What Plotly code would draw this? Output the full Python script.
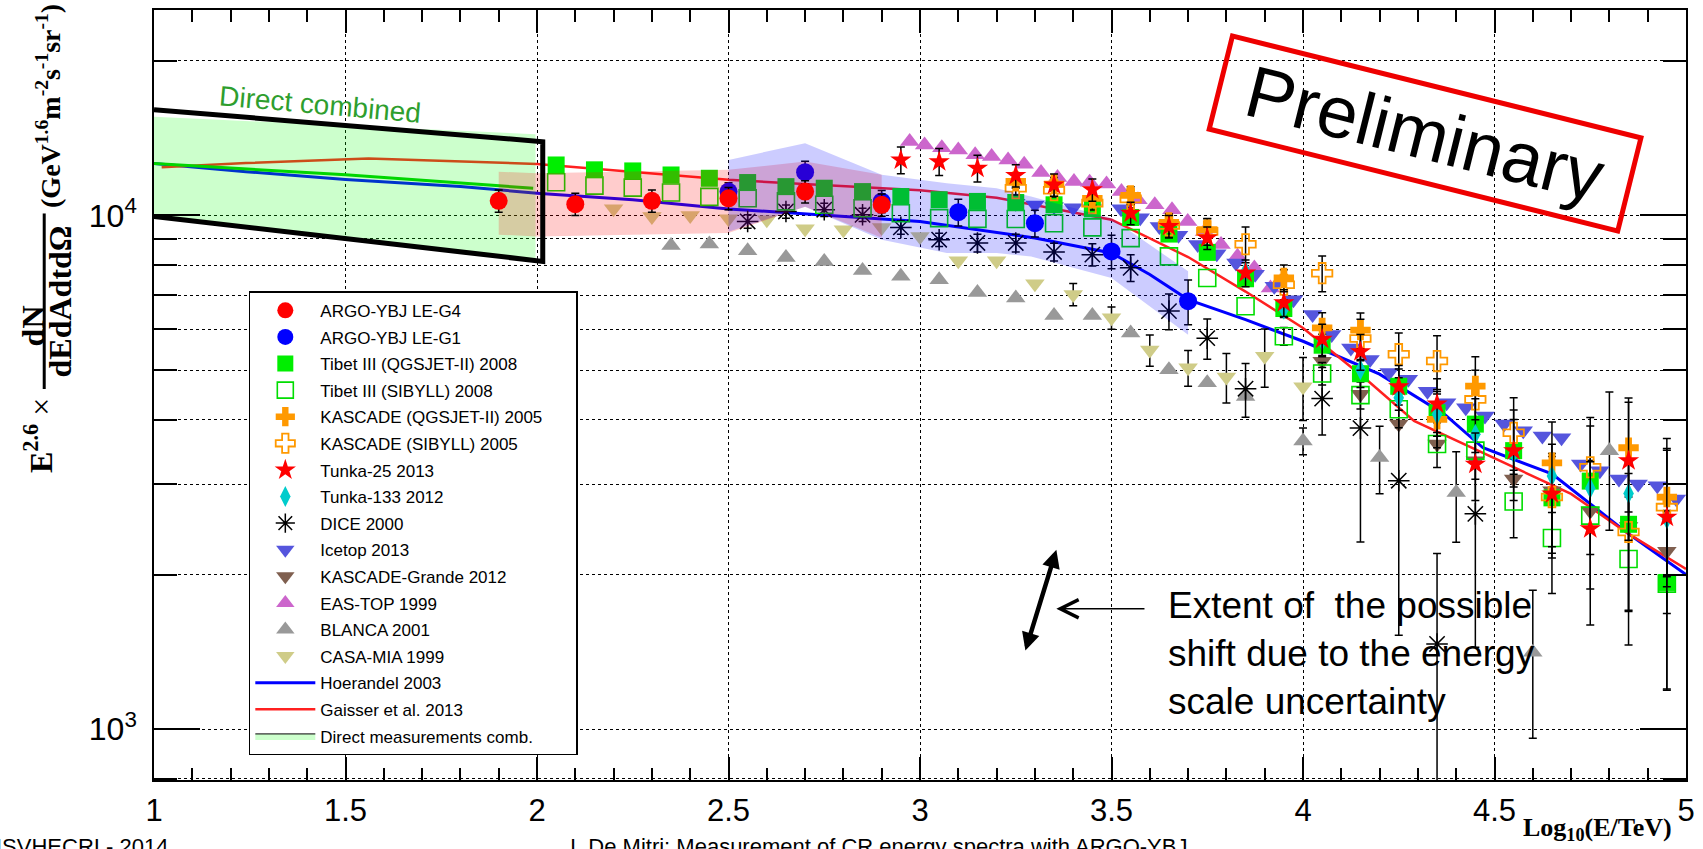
import plotly.graph_objects as go

# ---------------- data ----------------
# model lines
hoer_x = [1.0, 1.24, 1.5, 1.8, 2.0, 2.25, 2.5, 2.75, 3.0, 3.3, 3.5, 3.6, 3.7, 3.85, 4.0, 4.2, 4.37, 4.47, 4.65, 4.85, 5.0]
hoer_y = [12620, 12170, 11750, 11385, 11050, 10730, 10300, 10030, 9735, 9040, 8450, 7675, 6860, 6270, 5690, 4910, 4100, 3530, 3140, 2400, 2000]
gais_x = [1.02, 1.24, 1.56, 1.92, 2.0, 2.5, 3.0, 3.2, 3.5, 3.7, 3.85, 4.0, 4.17, 4.29, 4.5, 4.7, 4.85, 5.0]
gais_y = [12410, 12650, 12910, 12640, 12600, 11730, 11200, 10830, 9810, 8300, 7110, 6040, 4760, 3980, 3360, 2870, 2400, 2050]
dline_x = [1.0, 1.5, 1.99]
dline_y = [12620, 12000, 11300]

# direct measurements band and its outline
direct_x = [1.0, 1.996]
direct_hi = [15570, 14390]
direct_lo = [9955, 8140]
box_x = [1.0, 2.015]
box_hi = [16070, 13920]
box_lo = [9955, 8140]

# ARGO systematic bands
pink_x = [1.9, 2.0, 2.5, 2.7, 2.9]
pink_hi = [12170, 12080, 12270, 12740, 12000]
pink_lo = [9175, 9100, 9240, 10400, 9050]
blueb_x = [2.5, 2.7, 2.9, 3.07, 3.2, 3.29, 3.5, 3.7]
blueb_hi = [12830, 13820, 12000, 11550, 11300, 10885, 9880, 7785]
blueb_lo = [9300, 10400, 8970, 8450, 8450, 8320, 7555, 5860]

# experiments (x, y, relative error; 0 = no visible error bar)
g4_x = [1.9, 2.1, 2.3, 2.5, 2.7, 2.9]
g4_y = [10680, 10520, 10680, 10800, 11130, 10490]
g4_e = [0.05, 0.05, 0.05, 0.05, 0.05, 0.05]

g1_x = [2.5, 2.7, 2.9, 3.1, 3.3, 3.5, 3.7]
g1_y = [11130, 12140, 10650, 10150, 9660, 8510, 6810]
g1_e = [0.04, 0.05, 0.05, 0.06, 0.06, 0.075, 0.1]

tib_x = [2.05, 2.15, 2.25, 2.35, 2.45, 2.55, 2.65, 2.75, 2.85, 2.95, 3.05, 3.15, 3.25, 3.35, 3.45,
         3.55, 3.65, 3.75, 3.85, 3.95, 4.05, 4.15, 4.25, 4.35, 4.45, 4.55, 4.65, 4.75, 4.85, 4.95]
tibq_y = [12540, 12270, 12210, 11990, 11815, 11590, 11380, 11300, 11130, 10885, 10730, 10650, 10600, 10490, 10300,
          9910, 9200, 8475, 7530, 6590, 5590, 4920, 4650, 4130, 3925, 3485, 2820, 3040, 2505, 1930]
tibs_y = [11607, 11430, 11330, 11085, 10870, 10800, 10650, 10490, 10330, 10100, 9880, 9850, 9840, 9660, 9480,
          9035, 8325, 7555, 6655, 5820, 4925, 4470, 4195, 3590, 3485, 2775, 2355, 2604, 2144, 1920]
tib_e = [0.0] * 19 + [0.04, 0.05, 0.06, 0.08, 0.10, 0.12, 0.15, 0.22, 0.28, 0.32, 0.38]

kasq_x = [3.25, 3.35, 3.45, 3.55, 3.65, 3.75, 3.95, 4.05, 4.15, 4.35, 4.45, 4.65, 4.85, 4.95]
kasq_y = [11650, 11510, 10800, 10940, 9690, 9380, 7555, 6040, 5980, 4010, 4655, 3300, 3530, 2830]
kasq_e = [0.03, 0.03, 0.03, 0.04, 0.04, 0.05, 0.06, 0.07, 0.08, 0.12, 0.14, 0.2, 0.25, 0.3]

kass_x = [3.25, 3.35, 3.45, 3.55, 3.65, 3.75, 3.85, 3.95, 4.05, 4.15, 4.25, 4.35, 4.45, 4.55, 4.65, 4.75, 4.85, 4.95]
kass_y = [11300, 11200, 10570, 10770, 9560, 9310, 8790, 7330, 7720, 5760, 5370, 5207, 4385, 3775, 2830, 3235, 2420, 2705]
kass_e = [0.03, 0.03, 0.03, 0.04, 0.05, 0.06, 0.08, 0.07, 0.08, 0.09, 0.1, 0.12, 0.14, 0.17, 0.2, 0.25, 0.3, 0.3]

t25_x = [2.95, 3.05, 3.15, 3.25, 3.35, 3.45, 3.55, 3.65, 3.75, 3.85, 3.95, 4.05, 4.15, 4.25, 4.35,
         4.45, 4.55, 4.65, 4.75, 4.85, 4.95]
t25_y = [12830, 12730, 12360, 11960, 11470, 11220, 10100, 9520, 9040, 7730, 6765, 5740, 5430, 4640, 4295,
         3280, 3485, 2870, 2455, 3330, 2585]
t25_e = [0.06, 0.06, 0.06, 0.05, 0.05, 0.05, 0.05, 0.05, 0.05, 0.06, 0.06, 0.07, 0.08, 0.1, 0.12,
         0.15, 0.2, 0.25, 0.35, 0.3, 0.35]

t133_x = [3.85, 3.95, 4.05, 4.15, 4.25, 4.35, 4.45, 4.55, 4.65, 4.75, 4.85, 4.95]
t133_y = [7780, 6570, 5715, 5010, 4415, 4100, 3750, 3450, 3110, 2945, 2875, 2564]

dice_x = [2.55, 2.65, 2.75, 2.85, 2.95, 3.05, 3.15, 3.25, 3.35, 3.45, 3.55, 3.65, 3.75, 3.85, 4.05, 4.15, 4.25, 4.35, 4.45]
dice_y = [9735, 10180, 10260, 10030, 9480, 8970, 8840, 8840, 8490, 8390, 7910, 6515, 5770, 4600, 4400, 3855, 3045, 1465, 2625]
dice_e = [0.03, 0.03, 0.03, 0.03, 0.03, 0.03, 0.04, 0.04, 0.04, 0.05, 0.06, 0.08, 0.09, 0.12, 0.15, 0.4, 0.5, 0.5, 0.45]

ice_x = [3.25, 3.30, 3.35, 3.40, 3.45, 3.525, 3.575, 3.625, 3.675, 3.725, 3.775, 3.825, 3.875, 3.925, 3.975,
         4.025, 4.075, 4.125, 4.175, 4.225, 4.275, 4.325, 4.375, 4.425, 4.475, 4.525, 4.575, 4.625, 4.675,
         4.725, 4.775, 4.825, 4.875, 4.925, 4.975]
ice_y = [10565, 10480, 10410, 10350, 10305, 10305, 9900, 9520, 9150, 8775, 8420, 8080, 7680, 7280, 6850,
         6415, 5865, 5520, 5245, 4945, 4800, 4550, 4320, 4225, 4070, 3925, 3808, 3723, 3694,
         3283, 3185, 3070, 3000, 2977, 2805]

kg_x = [4.05, 4.15, 4.25, 4.35, 4.45, 4.55, 4.65, 4.75, 4.85, 4.95]
kg_y = [5205, 4487, 3925, 3590, 3330, 3070, 2912, 2660, 2480, 2220]

eas_x = [2.973, 3.012, 3.057, 3.100, 3.144, 3.187, 3.230, 3.272, 3.316, 3.359, 3.402, 3.443, 3.487, 3.526,
         3.569, 3.613, 3.658, 3.699, 3.743, 3.786, 3.829, 3.873, 3.915]
eas_y = [13930, 13710, 13550, 13416, 13130, 13020, 12830, 12580, 12130, 11850, 11650, 11610, 11510, 11130,
         10730, 10490, 10260, 9730, 9310, 8775, 8325, 7905, 7225]

bla_x = [2.35, 2.45, 2.55, 2.65, 2.75, 2.85, 2.95, 3.05, 3.15, 3.25, 3.35, 3.45, 3.55, 3.65, 3.75, 3.85,
         4.0, 4.2, 4.4, 4.6, 4.8]
bla_y = [8745, 8795, 8540, 8285, 8140, 7810, 7615, 7500, 7080, 6910, 6390, 6390, 5905, 5010, 4725, 4440,
         3640, 3380, 2890, 1412, 3485]
bla_e = [0.0] * 16 + [0.06, 0.15, 0.2, 0.32, 0.3]

casa_x = [2.2, 2.3, 2.4, 2.5, 2.6, 2.7, 2.8, 2.9, 3.0, 3.1, 3.2, 3.3, 3.4, 3.5, 3.6, 3.7, 3.8, 3.9, 4.0]
casa_y = [10310, 9955, 10000, 9850, 9810, 9420, 9380, 9480, 9100, 8165, 8165, 7360, 7020, 6320, 5470, 5053, 4850, 5320, 4640]
casa_e = [0.0] * 12 + [0.05, 0.05, 0.07, 0.08, 0.11, 0.13, 0.14]

# ---------------- layout geometry ----------------
W, H = 1703, 849
ML, MR, MT, MB = 154, 14, 8, 69
PW, PH = W - ML - MR, H - MT - MB


def px(xp):
    return (xp - ML) / PW


def py(yp):
    return (H - MB - yp) / PH


SANS = "Liberation Sans, Arial, Helvetica, sans-serif"
SERIF = "Liberation Serif, Times New Roman, serif"
NB = "\u00a0"

fig = go.Figure()

# ---- model lines (drawn first, under the direct band) ----
fig.add_trace(go.Scatter(x=hoer_x, y=hoer_y, mode="lines", line=dict(color="#0000ff", width=3),
                         name="Hoerandel 2003", legendrank=15, legendgroup="g15", hoverinfo="skip"))
fig.add_trace(go.Scatter(x=gais_x, y=gais_y, mode="lines", line=dict(color="#ff2020", width=2.5),
                         name="Gaisser et al. 2013", legendrank=16, legendgroup="g16", hoverinfo="skip"))
fig.add_trace(go.Scatter(x=dline_x, y=dline_y, mode="lines", line=dict(color="#00cc00", width=3),
                         showlegend=False, hoverinfo="skip"))

# ---- direct measurements band ----
fig.add_trace(go.Scatter(x=direct_x + direct_x[::-1], y=direct_hi + direct_lo[::-1], fill="toself",
                         fillcolor="rgba(0,255,0,0.2)", mode="lines", line=dict(width=0),
                         showlegend=False, hoverinfo="skip"))
fig.add_trace(go.Scatter(x=[None], y=[None], fill="toself", fillcolor="#ccffcc", mode="lines",
                         line=dict(color="black", width=1), name="Direct measurements comb.",
                         legendrank=17, legendgroup="g17"))


def pts(x, y, name, rank, symbol, color, size, e=None, lw=0):
    if e is not None:
        sel = [i for i, f in enumerate(e) if f > 0]
        if sel:
            fig.add_trace(go.Scatter(
                x=[x[i] for i in sel], y=[y[i] for i in sel], mode="markers",
                marker=dict(size=2, opacity=0), showlegend=False, hoverinfo="skip",
                error_y=dict(type="data", array=[y[i] * e[i] for i in sel], symmetric=True,
                             color="black", thickness=1.5, width=4)))
    fig.add_trace(go.Scatter(
        x=x, y=y, mode="markers", name=name, legendrank=rank, legendgroup="g%d" % rank,
        marker=dict(symbol=symbol, color=color, size=size, line=dict(width=lw, color=color)),
        hoverinfo="skip"))


pts(eas_x, eas_y, "EAS-TOP 1999", 12, "triangle-up", "#cc66cc", 17)
pts(bla_x, bla_y, "BLANCA 2001", 13, "triangle-up", "#999999", 17, bla_e)
pts(casa_x, casa_y, "CASA-MIA 1999", 14, "triangle-down", "#cfcc88", 17, casa_e)
pts(ice_x, ice_y, "Icetop 2013", 10, "triangle-down", "#5555dd", 17)
pts(kg_x, kg_y, "KASCADE-Grande 2012", 11, "triangle-down", "#7f5f4f", 17)
pts(dice_x, dice_y, "DICE 2000", 9, "asterisk-open", "black", 18, dice_e, lw=1.5)
pts(tib_x, tibs_y, "Tibet III (SIBYLL) 2008", 4, "square-open", "#00dd00", 17, tib_e, lw=1.6)
pts(tib_x, tibq_y, "Tibet III (QGSJET-II) 2008", 3, "square", "#00ee00", 17, tib_e)
pts(kass_x, kass_y, "KASCADE (SIBYLL) 2005", 6, "cross-open", "#ff9900", 17, kass_e, lw=1.8)
pts(kasq_x, kasq_y, "KASCADE (QGSJET-II) 2005" + NB * 6, 5, "cross", "#ff9900", 17, kasq_e)
pts(t133_x, t133_y, "Tunka-133 2012", 8, "diamond-tall", "#00cccc", 15)
pts(t25_x, t25_y, "Tunka-25 2013", 7, "star", "#ff0000", 16, t25_e)
pts(g1_x, g1_y, "ARGO-YBJ LE-G1", 2, "circle", "#0000ff", 18, g1_e)

# ---- ARGO systematic bands (semi transparent, on top) ----
fig.add_trace(go.Scatter(x=pink_x + pink_x[::-1], y=pink_hi + pink_lo[::-1], fill="toself",
                         fillcolor="rgba(255,0,0,0.2)", mode="lines", line=dict(width=0),
                         showlegend=False, hoverinfo="skip"))
fig.add_trace(go.Scatter(x=blueb_x + blueb_x[::-1], y=blueb_hi + blueb_lo[::-1], fill="toself",
                         fillcolor="rgba(0,0,255,0.2)", mode="lines", line=dict(width=0),
                         showlegend=False, hoverinfo="skip"))

pts(g4_x, g4_y, "ARGO-YBJ LE-G4", 1, "circle", "#ff0000", 18, g4_e)

# ---- thick outline of the direct band ----
fig.add_trace(go.Scatter(x=box_x + box_x[::-1], y=box_hi + box_lo[::-1], mode="lines",
                         line=dict(color="black", width=5), showlegend=False, hoverinfo="skip"))

# ---------------- axes ----------------
maj_x = [1, 1.5, 2, 2.5, 3, 3.5, 4, 4.5, 5]
min_x = [round(1 + 0.1 * i, 1) for i in range(41) if i % 5 != 0]
maj_y = [1000, 10000]
min_y = [800, 2000, 3000, 4000, 5000, 6000, 7000, 8000, 9000, 20000]

fig.update_xaxes(
    range=[1, 5], tickvals=maj_x, ticktext=["1", "1.5", "2", "2.5", "3", "3.5", "4", "4.5", "5"],
    ticks="inside", ticklen=23, tickwidth=1.5, tickcolor="black",
    showgrid=True, gridcolor="black", gridwidth=1, griddash="dot",
    minor=dict(tickvals=min_x, ticks="inside", ticklen=12, tickwidth=1.5, tickcolor="black", showgrid=False),
    showline=True, linecolor="black", linewidth=1.5, mirror="allticks", zeroline=False,
    tickfont=dict(family=SANS, size=31, color="black"), ticklabelstandoff=2,
)
fig.update_yaxes(
    type="log", range=[2.901, 4.4], tickvals=maj_y, ticktext=["10<sup>3</sup>", "10<sup>4</sup>"],
    ticks="inside", ticklen=46, tickwidth=1.5, tickcolor="black",
    showgrid=True, gridcolor="black", gridwidth=1, griddash="dot",
    minor=dict(tickvals=min_y, ticks="inside", ticklen=23, tickwidth=1.5, tickcolor="black",
               showgrid=True, gridcolor="black", gridwidth=1, griddash="dot"),
    showline=True, linecolor="black", linewidth=1.5, mirror="allticks", zeroline=False,
    tickfont=dict(family=SANS, size=32, color="black"), ticklabelstandoff=9,
)

# ---------------- annotations ----------------
ann = []
# Preliminary stamp
ann.append(dict(x=4.319, y=4.159, xref="x", yref="y", text="&nbsp;Preliminary&nbsp;", showarrow=False,
                xanchor="center", yanchor="middle",
                textangle=14, font=dict(family=SANS, size=73, color="black"),
                bordercolor="#ee0000", borderwidth=5, borderpad=5))
# Direct combined label
ann.append(dict(x=1.434, y=4.2155, xref="x", yref="y", text="Direct combined", showarrow=False,
                xanchor="center", yanchor="middle",
                textangle=5, font=dict(family=SANS, size=28, color="#2e9e2e")))
# double headed arrow (energy scale shift)
ann.append(dict(x=3.356, y=3.349, ax=3.274, ay=3.150, xref="x", yref="y", axref="x", ayref="y",
                text="", showarrow=True, arrowhead=2, startarrowhead=2, arrowside="end+start",
                arrowsize=0.8, startarrowsize=0.8, arrowwidth=4.5, arrowcolor="black"))
# thin pointer arrow
ann.append(dict(x=3.356, y=3.2344, ax=3.59, ay=3.2344, xref="x", yref="y", axref="x", ayref="y",
                text="", showarrow=True, arrowhead=5, arrowsize=2.4, arrowwidth=1.5, arrowcolor="black"))
ann.append(dict(x=3.642, y=3.1476, xref="x", yref="y", xanchor="left", yanchor="middle", align="left",
                text="Extent of&nbsp;&nbsp;the possible<br>shift due to the energy<br>scale uncertainty",
                showarrow=False, font=dict(family=SANS, size=37, color="black")))

# axis titles
ann.append(dict(x=px(1676), y=py(829), xref="paper", yref="paper", xanchor="right", yanchor="middle",
                text="<b>Log<sub>10</sub>(E/TeV)</b>", showarrow=False, borderpad=0,
                font=dict(family=SERIF, size=26, color="black")))
ytitle_font = dict(family=SERIF, size=32, color="black")
ann.append(dict(x=px(38), y=py(435), xref="paper", yref="paper", textangle=-90, showarrow=False,
                xanchor="center", yanchor="middle",
                text="<b>E<sup>2.6</sup></b> ×", font=ytitle_font))
ann.append(dict(x=px(33), y=py(325), xref="paper", yref="paper", textangle=-90, showarrow=False,
                xanchor="center", yanchor="middle",
                text="<b>dN</b>", font=ytitle_font))
ann.append(dict(x=px(60), y=py(300), xref="paper", yref="paper", textangle=-90, showarrow=False,
                xanchor="center", yanchor="middle",
                text="<b>dEdAdtdΩ</b>", font=ytitle_font))
ann.append(dict(x=px(49), y=py(104), xref="paper", yref="paper", textangle=-90, showarrow=False,
                xanchor="center", yanchor="middle",
                text="<b>(GeV<sup>1.6</sup>m<sup>-2</sup>s<sup>-1</sup>sr<sup>-1</sup>)</b>",
                font=dict(family=SERIF, size=28, color="black")))

# slide footer (partly cut off at the bottom)
ann.append(dict(x=px(-6), y=py(832), xref="paper", yref="paper", xanchor="left", yanchor="top",
                text="ISVHECRI - 2014", showarrow=False, font=dict(family=SANS, size=22, color="black")))
ann.append(dict(x=px(880), y=py(832), xref="paper", yref="paper", xanchor="center", yanchor="top",
                text="I. De Mitri: Measurement of CR energy spectra with ARGO-YBJ", showarrow=False,
                font=dict(family=SANS, size=22, color="black")))

shapes = [dict(type="line", xref="paper", yref="paper", x0=px(44), x1=px(44), y0=py(212), y1=py(388),
               line=dict(color="black", width=3))]

fig.update_layout(
    width=W, height=H, margin=dict(l=ML, r=MR, t=MT, b=MB, pad=0),
    paper_bgcolor="white", plot_bgcolor="white",
    annotations=ann, shapes=shapes,
    legend=dict(x=px(249), y=py(290), xanchor="left", yanchor="top", bgcolor="white",
                bordercolor="black", borderwidth=1.5, font=dict(family=SANS, size=17, color="black"),
                itemwidth=60, traceorder="grouped", tracegroupgap=1.5, itemsizing="trace"),
    showlegend=True,
)

fig.write_html("out.html")
